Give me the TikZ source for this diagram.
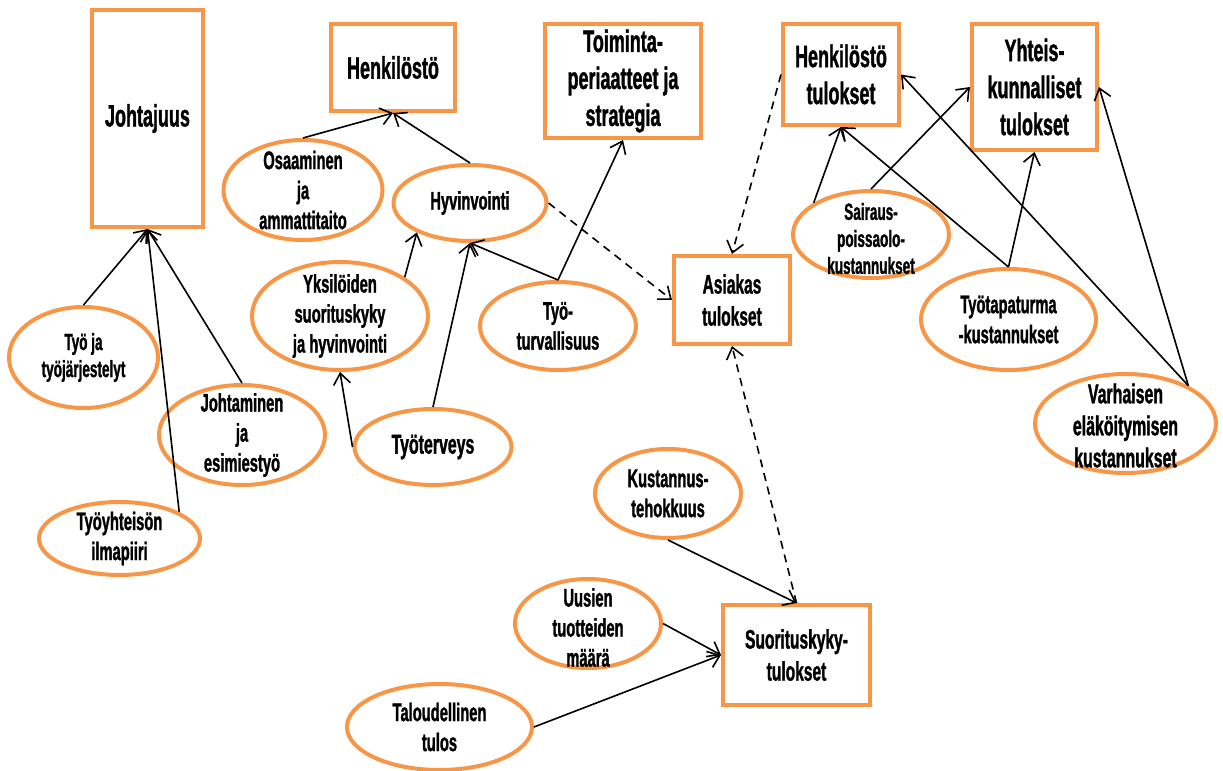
\documentclass[tikz,border=0pt]{standalone}
\usepackage{fontspec}
\setmainfont{Liberation Sans}[FakeStretch=0.58, BoldFeatures={FakeBold=1.2}]
\usetikzlibrary{shapes.geometric,arrows.meta}
\definecolor{tang}{HTML}{F79646}
\begin{document}
\begin{tikzpicture}[x=0.5pt,y=-0.5pt,
  box/.style 2 args={draw=tang, line width=2pt, fill=white,
    minimum width=#1*0.5pt-2pt, minimum height=#2*0.5pt-2pt,
    inner sep=0pt, align=center, font=\bfseries\fontsize{15.5}{18.5}\selectfont},
  sbox/.style={font=\bfseries\fontsize{13.4}{16}\selectfont},
  ell/.style 2 args={ellipse, draw=tang, line width=2pt, fill=white,
    minimum width=#1*0.5pt-2pt, minimum height=#2*0.5pt-2pt, inner sep=0pt},
  etx/.style={align=center, inner sep=0pt, font=\bfseries\fontsize{12.7}{15}\selectfont},
  etxs/.style={etx, font=\bfseries\fontsize{11.7}{13.5}\selectfont},
  etxl/.style={etx, font=\bfseries\fontsize{13.7}{16}\selectfont},
  conn/.style={draw=black, line width=0.8pt, -{Straight Barb[length=5.5pt,width=8.5pt]}},
  dconn/.style={conn, dash pattern=on 4pt off 3pt},
]
\useasboundingbox (0,0) rectangle (1223,771);

% boxes
\node[box={115}{221}] (joh) at (147.5,118.5) {Johtajuus};
\node[box={128}{91}] (hen) at (393,67.5) {Henkilöstö};
\node[box={160}{118}] (toi) at (623,81) {Toiminta-\\periaatteet ja\\strategia};
\node[box={120}{105}] (htul) at (841,74.5) {Henkilöstö\\tulokset};
\node[box={129}{130}] (yht) at (1034.5,87) {Yhteis-\\kunnalliset\\tulokset};
\node[box={120}{92}, sbox] (asi) at (732,300) {Asiakas\\tulokset};
\node[box={151}{104}, sbox] (suo) at (796.5,655) {Suorituskyky-\\tulokset};

% ellipses
\node[ell={163}{104}, label={[etx]center:Osaaminen\\ja\\ammattitaito}] (osa) at (303,190) {};
\node[ell={157}{80}, label={[etx]center:Hyvinvointi}] (hyv) at (470,203) {};
\node[ell={180}{112}, label={[etx]center:Yksilöiden\\suorituskyky\\ja hyvinvointi}] (yks) at (340,316) {};
\node[ell={160}{92}, label={[etx]center:Työ-\\turvallisuus}] (tur) at (558,326) {};
\node[ell={161}{80}, label={[etxl]center:Työterveys}] (ter) at (433,447) {};
\node[ell={153}{105}, label={[etxs]center:Työ ja\\työjärjestelyt}] (tyo) at (83.5,357.5) {};
\node[ell={170}{104}, label={[etx]center:Johtaminen\\ja\\esimiestyö}] (jes) at (242,435) {};
\node[ell={165}{77}, label={[etx]center:Työyhteisön\\ilmapiiri}] (ilm) at (119.5,538.5) {};
\node[ell={160}{91}, label={[etxs,yshift=-2pt]center:Sairaus-\\poissaolo-\\kustannukset}] (sai) at (871,234.5) {};
\node[ell={179}{105}, label={[etx]center:Työtapaturma\\-kustannukset}] (tap) at (1008.5,319.5) {};
\node[ell={185}{103}, label={[etxl,yshift=-1pt]center:Varhaisen\\eläköitymisen\\kustannukset}] (var) at (1125.5,423.5) {};
\node[ell={150}{93}, label={[etx]center:Kustannus-\\tehokkuus}] (kus) at (668,493.5) {};
\node[ell={150}{93}, label={[etx,yshift=-2pt]center:Uusien\\tuotteiden\\määrä}] (uus) at (588,623.5) {};
\node[ell={189}{90}, label={[etx]center:Taloudellinen\\tulos}] (tal) at (439.5,727) {};

% connectors
\draw[conn] (tyo.north) -- (joh.south);
\draw[conn] (ilm.24) -- (joh.south);
\draw[conn] (jes.north) -- (joh.south);
\draw[conn] (osa.north) -- (hen.south);
\draw[conn] (hyv.north) -- (hen.south);
\draw[conn] (yks.31) -- (hyv.209);
\draw[conn] (ter.north) -- (hyv.south);
\draw[conn] (ter.west) -- (yks.south);
\draw[conn] (tur.north) -- (hyv.south);
\draw[conn] (tur.north) -- (toi.south);
\draw[dconn] (hyv.east) -- (asi.west);
\draw[dconn] (htul.west) -- (asi.north);
\draw[dconn] (suo.north) -- (asi.south);
\draw[conn] (kus.south) -- (suo.north);
\draw[conn] (uus.east) -- (suo.west);
\draw[conn] (tal.east) -- (suo.west);
\draw[conn] (sai.151) -- (htul.south);
\draw[conn] (sai.north) -- (yht.west);
\draw[conn] (tap.north) -- (htul.south);
\draw[conn] (tap.north) -- (yht.south);
\draw[conn] (var.31) -- (htul.east);
\draw[conn] (var.31) -- (yht.east);
\end{tikzpicture}
\end{document}
